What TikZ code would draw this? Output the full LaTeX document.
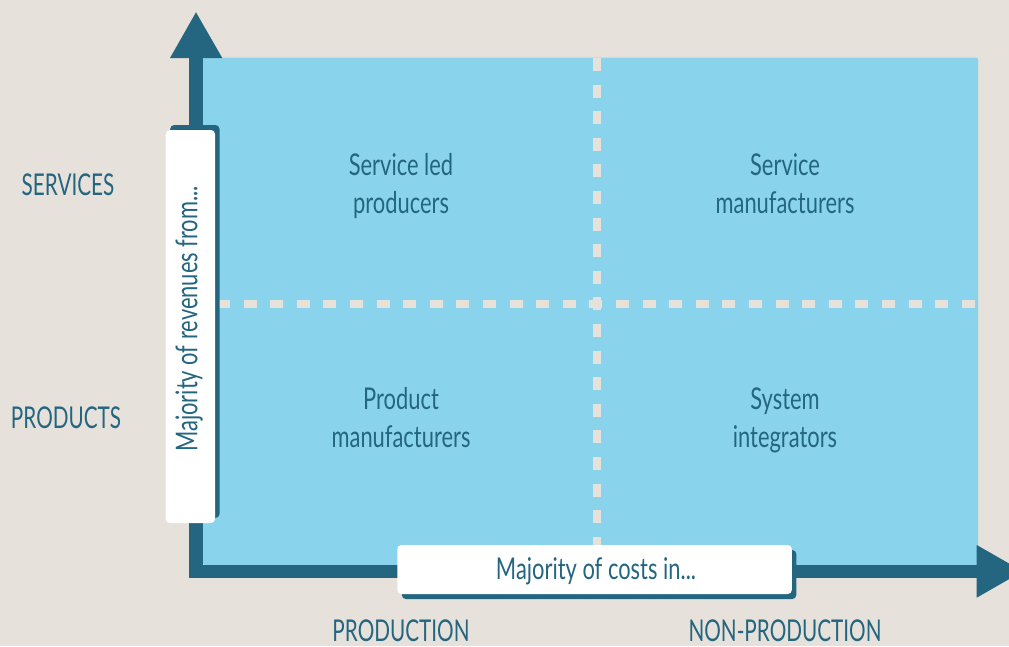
\documentclass[tikz,border=0pt]{standalone}
\usepackage{fontspec}
\setmainfont{Lato}[FakeStretch=0.73]
\newfontfamily\capsfont{Lato}[FakeStretch=0.69]
\definecolor{bg}{HTML}{E6E1DA}
\definecolor{quad}{HTML}{89D4EC}
\definecolor{axis}{HTML}{246580}
\tikzset{
  lbl/.style={text=axis, font=\fontsize{30}{37.5}\selectfont, align=center, inner sep=0pt, anchor=base},
  cat/.style={lbl, font=\capsfont\fontsize{30}{37.5}\selectfont, text depth=0pt},
  divider/.style={draw=bg, line width=8pt, dash pattern=on 13pt off 13.6pt},
  tag/.style={fill=white, rounded corners=4pt},
  tagshadow/.style={fill=axis, rounded corners=4pt},
  axisline/.style={draw=axis, line width=13.4pt, line join=miter},
}
\begin{document}
\begin{tikzpicture}[x=1pt,y=-1pt]
  \useasboundingbox (0,0) rectangle (1009,646);
  \clip (0,0) rectangle (1009,646);
  \fill[bg] (0,0) rectangle (1009,646);

  % quadrant field
  \fill[quad, rounded corners=2pt] (203,57.5) rectangle (978,565);

  % dashed dividers
  \coordinate (vtop) at (597,58);
  \coordinate (vbot) at (597,565);
  \coordinate (hleft) at (217,304);
  \coordinate (hright) at (978,304);
  \draw[divider] (vtop) -- (vbot);
  \draw[divider] (hleft) -- (hright);

  % axes
  \coordinate (ytop) at (196,58);
  \coordinate (xend) at (977,571.3);
  \draw[axisline] (ytop) |- (xend);
  \fill[axis] (170,58) -- (222.3,58) -- (196,12.3) -- cycle;
  \fill[axis] (976.7,545) -- (976.7,597.7) -- (1022.7,571.3) -- cycle;

  % axis tags
  \fill[tagshadow] (170.2,125) rectangle (219.5,518);
  \fill[tag] (165.7,130) rectangle (215,523);
  \node[lbl, rotate=90] (ylabel) at (197.3,319) {Majority of revenues from...};

  \fill[tagshadow] (401.8,550) rectangle (796.3,599);
  \fill[tag] (397.3,545) rectangle (791.8,594);
  \node[lbl] (xlabel) at (596,579.3) {Majority of costs in...};

  % quadrant names (anchored at the baseline of the second line)
  \node[lbl] (q1) at (401,213.3) {Service led\\producers};
  \node[lbl] (q2) at (785,213.3) {Service\\manufacturers};
  \node[lbl] (q3) at (401,447) {Product\\manufacturers};
  \node[lbl] (q4) at (785,447) {System\\integrators};

  % axis categories
  \node[cat] (services) at (68,195) {SERVICES};
  \node[cat] (products) at (66,428) {PRODUCTS};
  \node[cat] (production) at (401,641.7) {PRODUCTION};
  \node[cat] (nonproduction) at (785,641.7) {NON-PRODUCTION};
\end{tikzpicture}
\end{document}
